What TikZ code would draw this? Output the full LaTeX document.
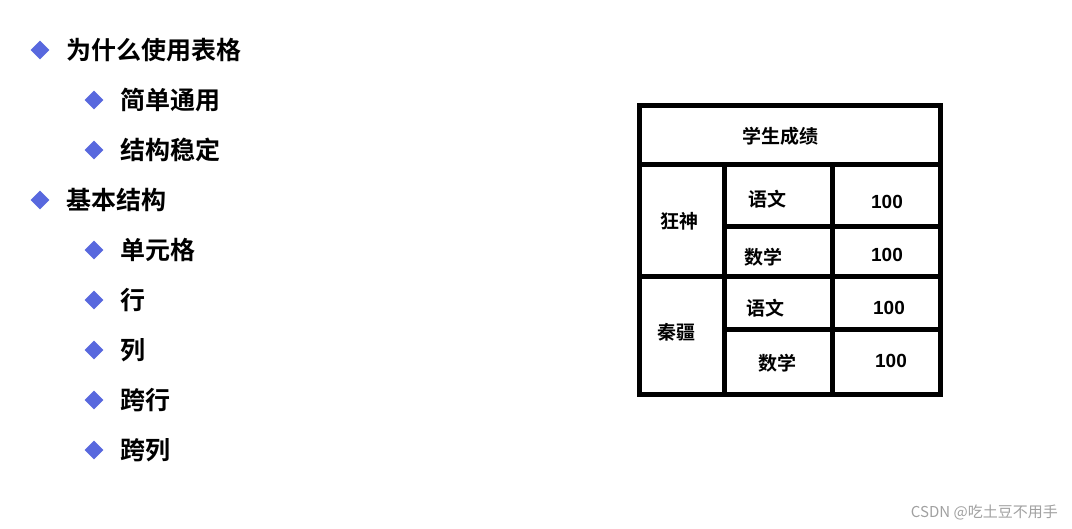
\documentclass[tikz,border=0pt]{standalone}
\usetikzlibrary{shapes.geometric}
\usepackage{fontspec}
\setmainfont{Noto Sans CJK SC}
\newfontfamily\cjkb{Noto Sans CJK SC Bold}
\newfontfamily\lsans{Liberation Sans}
\begin{document}
\begin{tikzpicture}[x=1pt,y=-1pt,
  dia/.style={fill={rgb,255:red,88;green,104;blue,222},diamond,inner sep=0pt,minimum size=19pt},
  itemtext/.style={anchor=west,font=\cjkb\fontsize{25}{28}\selectfont,inner sep=0pt},
  cell/.style={font=\cjkb\fontsize{19}{22}\selectfont,inner sep=0pt},
  num/.style={font=\lsans\bfseries\fontsize{19}{22}\selectfont,inner sep=0pt},
  rule/.style={line width=5pt}]
\useasboundingbox (0,0) rectangle (1072,529);
% bullets
\foreach \n/\x/\y/\t in {a/40/50/为什么使用表格,b/94/100/简单通用,c/94/150/结构稳定,d/40/200/基本结构,e/94/250/单元格,f/94/300/行,g/94/350/列,h/94/400/跨行,i/94/450/跨列}{
  \node[dia] (d\n) at (\x,\y) {};
  \node[itemtext] (t\n) at (\x+26,\y) {\t};
}
% table
\draw[rule] (639,106) rectangle (940,395);
\draw[rule] (637,165) -- (942,165);
\draw[rule] (637,277) -- (942,277);
\draw[rule] (724,165) -- (724,395);
\draw[rule] (832,165) -- (832,395);
\draw[rule] (724,227) -- (942,227);
\draw[rule] (724,330) -- (942,330);
\node[cell] (h) at (780,136) {学生成绩};
\node[cell] (n1) at (679,221) {狂神};
\node[cell] (n2) at (676,332) {秦疆};
\node[cell] (s1) at (767,199) {语文};
\node[cell] (s2) at (763,257) {数学};
\node[cell] (s3) at (765,308) {语文};
\node[cell] (s4) at (777,363) {数学};
\node[num] (v1) at (887,202) {100};
\node[num] (v2) at (887,255) {100};
\node[num] (v3) at (889,308) {100};
\node[num] (v4) at (891,361) {100};
\node[font=\fontsize{15}{18}\selectfont,text={rgb,255:red,160;green,160;blue,160},anchor=east,inner sep=0pt] (wm) at (1058,512) {CSDN @吃土豆不用手};
\end{tikzpicture}
\end{document}
